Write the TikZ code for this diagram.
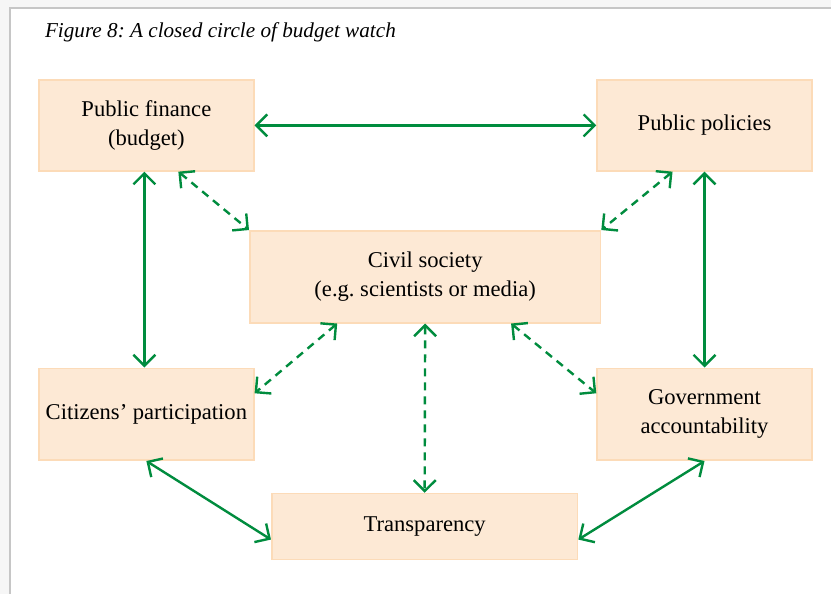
\documentclass[tikz,border=0pt]{standalone}
\usepackage{fontspec}
\setmainfont{Liberation Serif}
\usepackage{xcolor}
\usepackage{tikz}
\usetikzlibrary{arrows.meta, positioning}
\definecolor{boxfill}{RGB}{253, 233, 213}
\definecolor{boxline}{RGB}{252, 219, 184}
\definecolor{arrowgreen}{RGB}{0, 140, 62}
\definecolor{pagegray}{RGB}{246, 246, 246}
\frenchspacing

\begin{document}
\begin{tikzpicture}[
    x=0.5pt, y=-0.5pt,
    box/.style={rectangle, draw=boxline, line width=0.8pt, fill=boxfill, align=center, font=\fontsize{11.3}{14.5}\selectfont, inner sep=0pt},
    both/.style={{Straight Barb[length=5.5pt,width=11pt]}-{Straight Barb[length=5.5pt,width=11pt]}, draw=arrowgreen, line width=1.2pt},
    dashboth/.style={both, dash pattern=on 4pt off 3pt}
]
    % page background and frame
    \fill[pagegray] (0,0) rectangle (832,594);
    \fill[white] (10,8) rectangle (832,594);
    \draw[gray!45, line width=0.7pt] (10,594) -- (10,8) -- (832,8);
    \useasboundingbox (0,0) rectangle (832,594);

    \node[anchor=west, font=\fontsize{10.6}{12}\selectfont\itshape] (title) at (38,32) {Figure 8: A closed circle of budget watch};

    \node[box, minimum width=107.5pt, minimum height=45.5pt] (pf) at (146.5,125.5) {Public finance\\(budget)};
    \node[box, minimum width=107.5pt, minimum height=45.5pt, right=171pt of pf] (pp) {Public policies};
    \node[box, minimum width=107.5pt, minimum height=46pt, below=98pt of pf] (cp) {Citizens’ participation};
    \node[box, minimum width=107.5pt, minimum height=46pt, right=171pt of cp] (ga) {Government\\accountability};
    \node[box, minimum width=175.5pt, minimum height=46pt] (cs) at (425.5,277) {Civil society\\(e.g. scientists or media)};
    \node[box, minimum width=153pt, minimum height=33pt] (tr) at (425,527) {Transparency};

    \draw[both] (pf) -- (pp);
    \draw[both] ([xshift=-1pt]pf.south) -- ([xshift=-1pt]cp.north);
    \draw[both] (pp.south) -- (ga.north);
    \draw[both] (cp.south) -- ([yshift=-6.5pt]tr.west);
    \draw[both] (ga.south) -- ([yshift=-6.5pt]tr.east);

    \draw[dashboth] ([xshift=16pt]pf.south) -- (cs.north west);
    \draw[dashboth] ([xshift=-16pt]pp.south) -- (cs.north east);
    \draw[dashboth] ([xshift=-44pt]cs.south) -- ([yshift=10.5pt]cp.east);
    \draw[dashboth] ([xshift=43pt]cs.south) -- ([yshift=10.5pt]ga.west);
    \draw[dashboth] (cs.south) -- (tr.north);
\end{tikzpicture}
\end{document}
